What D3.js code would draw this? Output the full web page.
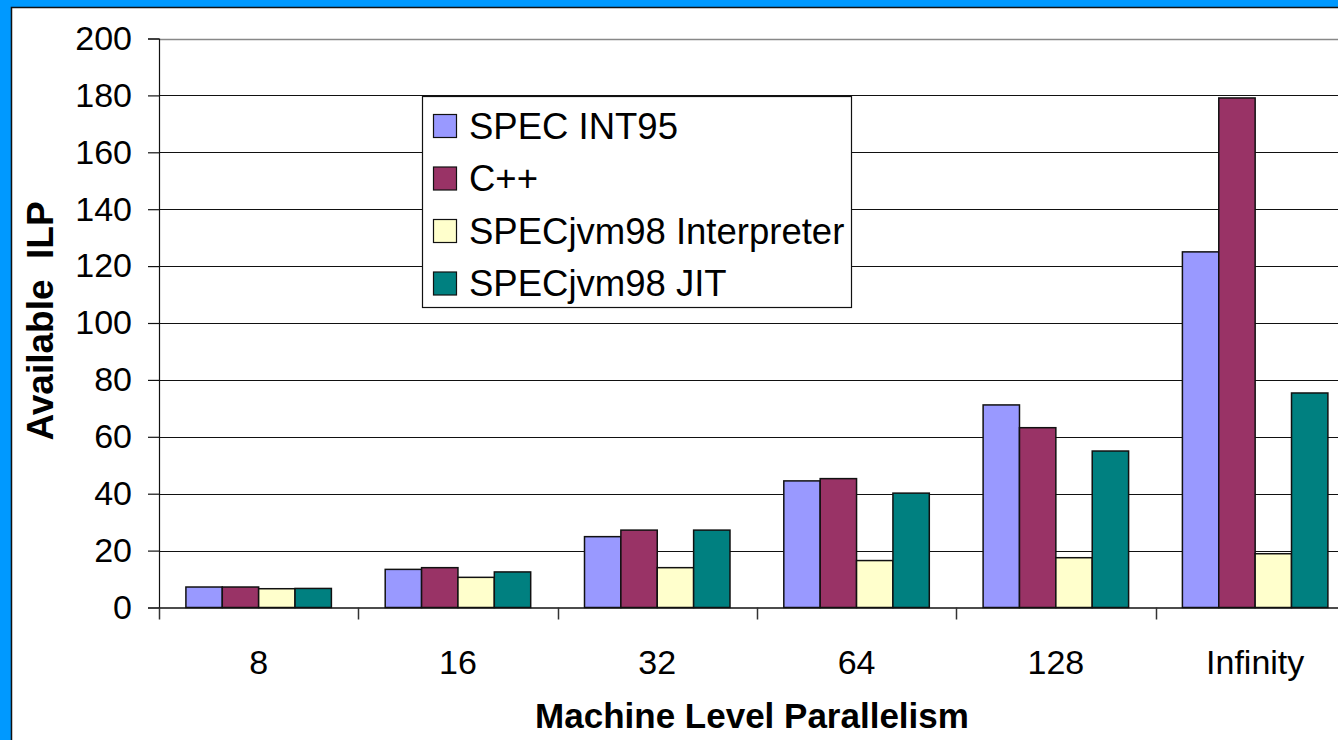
<!DOCTYPE html>
<html>
<head>
<meta charset="utf-8">
<script src="https://cdn.jsdelivr.net/npm/d3@7"></script>
<style>
  html, body { margin: 0; padding: 0; background: #fff; }
  svg { display: block; }
  text { font-family: "Liberation Sans", Arial, sans-serif; fill: #000; }
</style>
</head>
<body>
<svg id="chart" width="1338" height="740"></svg>
<script>
const categories = ["8", "16", "32", "64", "128", "Infinity"];
const seriesNames = ["SPEC INT95", "C++", "SPECjvm98 Interpreter", "SPECjvm98 JIT"];
const specInt95 = [7.2, 13.4, 24.9, 44.5, 71.2, 125];
const cpp = [7.2, 14.0, 27.2, 45.3, 63.2, 179.1];
const jvmInterp = [6.6, 10.6, 14.0, 16.5, 17.5, 18.9];
const jvmJit = [6.7, 12.5, 27.2, 40.2, 55.0, 75.4];
const yTicks = [0, 20, 40, 60, 80, 100, 120, 140, 160, 180, 200];
const colors = ["#9999ff", "#993366", "#ffffcc", "#008080"];

const seriesValues = [specInt95, cpp, jvmInterp, jvmJit];

const svg = d3.select("#chart");
const W = 1338, H = 740;

// outer frame
svg.append("rect").attr("x", 0).attr("y", 0).attr("width", W).attr("height", H).attr("fill", "#0099ff");
svg.append("rect").attr("x", 11.5).attr("y", 7.5).attr("width", W).attr("height", H)
  .attr("fill", "#fff").attr("stroke", "#111").attr("stroke-width", 1.5);

const plotLeft = 159, plotTop = 38.5, plotBottom = 607.5;
const catW = 199.3;
const plotRight = plotLeft + catW * categories.length;

const x = d3.scaleBand().domain(categories).range([plotLeft, plotRight]).padding(0);
const gapFrac = 0.135;
const xs = d3.scaleBand().domain(d3.range(seriesNames.length))
  .range([x.bandwidth() * gapFrac, x.bandwidth() * (1 - gapFrac)]).padding(0);
const y = d3.scaleLinear().domain([0, 200]).range([plotBottom, plotTop]);

// gridlines
svg.append("g").selectAll("line").data(yTicks.filter(t => t > 0 && t < 200)).join("line")
  .attr("x1", plotLeft).attr("x2", plotRight)
  .attr("y1", d => Math.round(y(d)) + 0.5).attr("y2", d => Math.round(y(d)) + 0.5)
  .attr("stroke", "#111").attr("stroke-width", 1.2);
// top border of plot area
svg.append("line").attr("x1", plotLeft).attr("x2", plotRight)
  .attr("y1", Math.round(y(200)) + 0.5).attr("y2", Math.round(y(200)) + 0.5)
  .attr("stroke", "#888").attr("stroke-width", 1.5);

// bars
const groups = svg.append("g").selectAll("g").data(categories).join("g")
  .attr("transform", d => `translate(${x(d)},0)`);
groups.selectAll("rect").data((c, ci) => seriesValues.map((vals, si) => ({ si, v: vals[ci] }))).join("rect")
  .attr("x", d => xs(d.si))
  .attr("width", xs.bandwidth())
  .attr("y", d => y(d.v))
  .attr("height", d => y(0) - y(d.v))
  .attr("fill", d => colors[d.si])
  .attr("stroke", "#111").attr("stroke-width", 1.5);

// y axis
const yAxis = svg.append("g").attr("transform", `translate(${plotLeft},0)`)
  .call(d3.axisLeft(y).tickValues(yTicks).tickSize(11).tickPadding(16).tickFormat(d3.format("d")));
yAxis.select(".domain").attr("stroke", "#111").attr("stroke-width", 1.2);
yAxis.selectAll(".tick line").attr("stroke", "#111").attr("stroke-width", 1.2);
yAxis.selectAll("text").style("font-size", "34px").attr("fill", "#000")
  .style("font-family", "'Liberation Sans', Arial, sans-serif");

// x axis
const xAxis = svg.append("g").attr("transform", `translate(0,${plotBottom})`)
  .call(d3.axisBottom(x).tickSize(0).tickPadding(0));
xAxis.select(".domain").attr("d", `M${plotLeft},0.5H${plotRight}`).attr("stroke", "#111").attr("stroke-width", 1.5);
xAxis.selectAll(".tick text").attr("y", 66).attr("dy", 0).style("font-size", "34px")
  .style("font-family", "'Liberation Sans', Arial, sans-serif").attr("fill", "#000");
// boundary ticks
svg.append("g").selectAll("line").data(categories).join("line")
  .attr("x1", d => Math.round(x(d)) + 0.5).attr("x2", d => Math.round(x(d)) + 0.5)
  .attr("y1", plotBottom).attr("y2", plotBottom + 12)
  .attr("stroke", "#333").attr("stroke-width", 1.5);

// axis titles
svg.append("text").attr("transform", "translate(53,321) rotate(-90)")
  .attr("text-anchor", "middle").style("font-size", "37px").style("font-weight", "bold")
  .attr("xml:space", "preserve").text("Available  ILP");
svg.append("text").attr("x", 752).attr("y", 728)
  .attr("text-anchor", "middle").style("font-size", "35px").style("font-weight", "bold")
  .text("Machine Level Parallelism");

// legend
const lg = svg.append("g");
lg.append("rect").attr("x", 422.5).attr("y", 96.5).attr("width", 429).attr("height", 211)
  .attr("fill", "#fff").attr("stroke", "#111").attr("stroke-width", 1.2);
const items = lg.selectAll("g").data(seriesNames).join("g")
  .attr("transform", (d, i) => `translate(0,${126 + i * 52.5})`);
items.append("rect").attr("x", 433.5).attr("y", -11.5).attr("width", 23).attr("height", 23)
  .attr("fill", (d, i) => colors[i]).attr("stroke", "#111").attr("stroke-width", 1.2);
items.append("text").attr("x", 469).attr("y", 12.5).style("font-size", "36.5px").text(d => d);
</script>
</body>
</html>
